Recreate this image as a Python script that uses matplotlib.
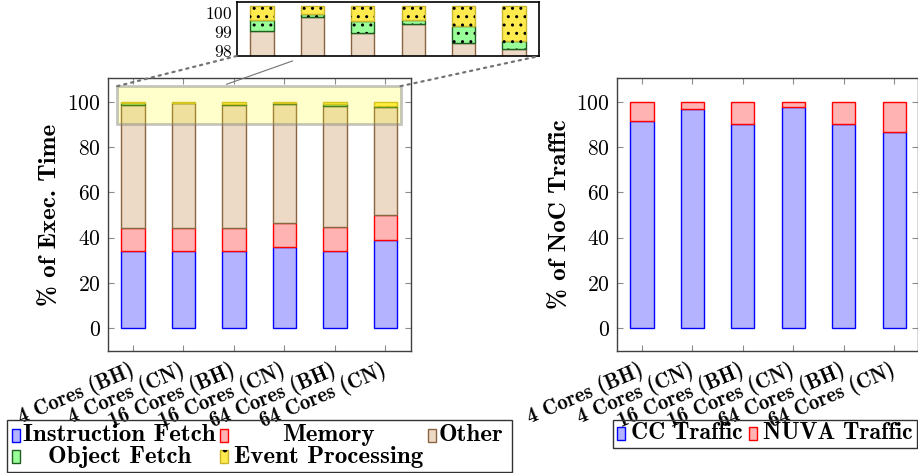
import numpy as np
import matplotlib
matplotlib.use("Agg")
import matplotlib.pyplot as plt
from matplotlib.patches import Rectangle, ConnectionPatch

plt.rcParams["font.family"] = ["cmr10", "DejaVu Serif"]
plt.rcParams["axes.formatter.use_mathtext"] = True
plt.rcParams["hatch.linewidth"] = 1.0

configs = ["4 Cores (BH)", "4 Cores (CN)", "16 Cores (BH)",
           "16 Cores (CN)", "64 Cores (BH)", "64 Cores (CN)"]

# execution time breakdown, % of total
instr_fetch = [34.0, 34.0, 34.0, 35.9, 34.0, 39.0]
memory = [10.4, 10.3, 10.1, 10.7, 10.9, 11.1]
other = [54.28, 55.13, 54.46, 52.44, 53.17, 47.62]
object_fetch = [0.57, 0.14, 0.64, 0.21, 0.87, 0.45]
event_proc = [0.75, 0.43, 0.80, 0.75, 1.06, 1.83]

# NoC traffic breakdown, % of total
cc_traffic = [91.6, 96.8, 90.4, 97.5, 90.4, 86.8]
nuva_traffic = [8.4, 3.2, 9.6, 2.5, 9.6, 13.2]

exec_series = [instr_fetch, memory, other, object_fetch, event_proc]
exec_styles = [
    ("Instruction Fetch", "#b3b3ff", "#0000ff", None),
    ("Memory", "#ffb3b3", "#ff0000", None),
    ("Other", "#ecd9c6", "#8b6540", None),
    ("Object Fetch", "#99ff99", "#1f5f1f", ".."),
    ("Event Processing", "#ffeb4d", "#c9b62a", ".."),
]
noc_series = [cc_traffic, nuva_traffic]
noc_styles = [
    ("CC Traffic", "#b3b3ff", "#0000ff", None),
    ("NUVA Traffic", "#ffb3b3", "#ff0000", None),
]

W, H = 918, 473
BOLD = ["cmb10", "DejaVu Serif"]
NUM_SIZE = 15.5
LABEL_SIZE = 18
x = np.arange(len(configs))
width = 0.46


def px(l, t, r, b):
    # pixel box -> figure fraction rect
    return [l / W, 1 - b / H, (r - l) / W, (b - t) / H]


def stacked(ax, series, styles):
    bottom = np.zeros(len(x))
    for vals, (label, fc, ec, hatch) in zip(series, styles):
        vals = np.asarray(vals)
        ax.bar(x, vals, width, bottom=bottom, color=fc, edgecolor=ec,
               linewidth=1, zorder=2)
        if hatch:
            ax.bar(x, vals, width, bottom=bottom, fill=False, hatch=hatch,
                   edgecolor="black", linewidth=0, zorder=2.1)
        bottom += vals


def style_axes(ax):
    ax.tick_params(direction="in", top=True, right=True, length=4,
                   color="0.55", width=0.8, labelsize=NUM_SIZE)
    ax.tick_params(axis="y", pad=5)
    ax.tick_params(axis="x", pad=13)
    for s in ax.spines.values():
        s.set_color("0.25")
        s.set_linewidth(1)
    ax.set_ylim(-10, 110.5)
    ax.set_yticks([0, 20, 40, 60, 80, 100])
    ax.set_xticks(x)
    ax.set_xticklabels(configs, rotation=23, ha="right", va="center",
                       rotation_mode="anchor", family=BOLD, fontsize=15)


def legend_key(fig, l, cy, style):
    label, fc, ec, hatch = style
    r = Rectangle((l / W, 1 - (cy + 6.5) / H), 8 / W, 13 / H,
                  transform=fig.transFigure, facecolor=fc, edgecolor=ec,
                  linewidth=1)
    fig.add_artist(r)
    if hatch:
        fig.add_artist(Rectangle((l / W, 1 - (cy + 6.5) / H), 8 / W, 13 / H,
                                 transform=fig.transFigure, fill=False,
                                 hatch=".", edgecolor="black", linewidth=0))


def legend_frame(fig, l, t, r, b):
    fig.add_artist(Rectangle((l / W, 1 - b / H), (r - l) / W, (b - t) / H,
                             transform=fig.transFigure, fill=False,
                             edgecolor="0.2", linewidth=1))


fig = plt.figure(figsize=(W / 100, H / 100), dpi=100)

# --- execution time breakdown ---
ax1 = fig.add_axes(px(107.7, 78, 410.7, 351))
stacked(ax1, exec_series, exec_styles)
style_axes(ax1)
ax1.set_xlim(-0.5, 5.5)
ax1.set_ylabel("% of Exec. Time", family=BOLD, fontsize=LABEL_SIZE)
ax1.yaxis.set_label_coords(-0.15, 0.5)

# zoomed region marker
zx0, zx1, zy0, zy1 = -0.31, 5.3, 90.2, 106.9
ax1.add_patch(Rectangle((zx0, zy0), zx1 - zx0, zy1 - zy0,
                        facecolor=(1, 1, 0, 0.2),
                        edgecolor=(0.5, 0.5, 0.5, 0.45), linewidth=2,
                        zorder=3))

# inset showing the top of the stacks
axz = fig.add_axes(px(236.7, 1.7, 539.3, 56))
stacked(axz, exec_series, exec_styles)
axz.set_xlim(-0.5, 5.5)
axz.set_ylim(97.37, 100.21)
axz.set_xticks([])
axz.set_yticks([98, 99, 100])
axz.tick_params(axis="y", length=0, pad=3, labelsize=12.5)
for lab in axz.get_yticklabels():
    lab.set_verticalalignment("top")
for s in axz.spines.values():
    s.set_color("black")
    s.set_linewidth(1.2)

for xa, xb in [((zx0, zy1), (0, 0)), ((zx1, zy1), (1, 0))]:
    fig.add_artist(ConnectionPatch(xyA=xa, coordsA=ax1.transData,
                                   xyB=xb, coordsB=axz.transAxes,
                                   linestyle=(0, (1, 2.2)), color="0.45",
                                   linewidth=1.6))
fig.add_artist(ConnectionPatch(xyA=(1.85, 107.7), coordsA=ax1.transData,
                               xyB=(0.185, -0.09), coordsB=axz.transAxes,
                               color="0.45", linewidth=0.8))

# --- NoC traffic breakdown ---
ax2 = fig.add_axes(px(616.7, 78, 917.5, 351))
stacked(ax2, noc_series, noc_styles)
style_axes(ax2)
ax2.set_xlim(-0.5, 5.46)
ax2.set_ylabel("% of NoC Traffic", family=BOLD, fontsize=LABEL_SIZE)
ax2.yaxis.set_label_coords(-0.148, 0.5)

# --- legends ---
legend_frame(fig, 7, 420, 512, 472)
exec_keys = [(11.5, 119, 435), (220, 328, 435), (428, 470.5, 435),
             (11.5, 120, 456.5), (220, 328.5, 456.5)]
for (kx, tx, cy), style in zip(exec_keys, exec_styles):
    legend_key(fig, kx, cy, style)
    fig.text(tx / W, 1 - cy / H, style[0], ha="center", va="center",
             family=BOLD, fontsize=LABEL_SIZE)

legend_frame(fig, 613, 420, 917.3, 448)
noc_keys = [(617, 686.5, 433), (749, 837.5, 433)]
for (kx, tx, cy), style in zip(noc_keys, noc_styles):
    legend_key(fig, kx, cy, style)
    fig.text(tx / W, 1 - cy / H, style[0], ha="center", va="center",
             family=BOLD, fontsize=17)

fig.savefig("out.png", dpi=100)
